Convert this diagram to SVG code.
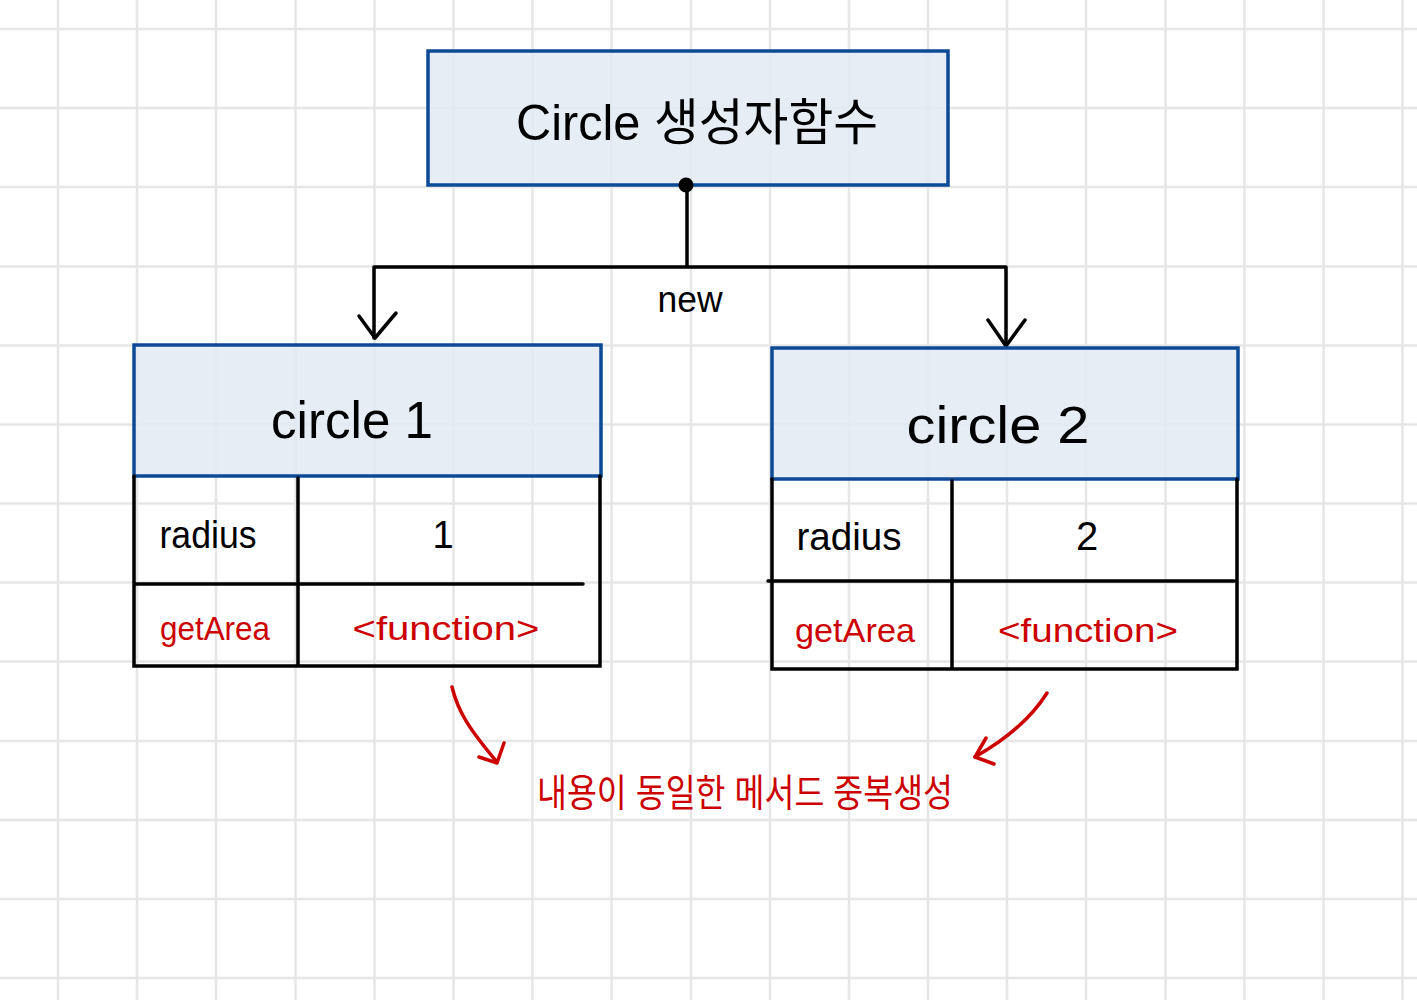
<svg xmlns="http://www.w3.org/2000/svg" width="1417" height="1000" viewBox="0 0 1417 1000">
<style>
.grid line{stroke:#e6e6e6;stroke-width:2.5}
.hdr{fill:#e3eaf3;fill-opacity:0.85;stroke:#0d4a96;stroke-width:3.5}
.tbl{fill:none;stroke:#000;stroke-width:3.5;stroke-linecap:round}
.t{font-family:"Liberation Sans","Noto Sans CJK KR",sans-serif;fill:#000;text-anchor:middle}
.r{fill:#cc0000}
.conn{fill:none;stroke:#000;stroke-width:3.5;stroke-linecap:round;stroke-linejoin:round}
.rc{fill:none;stroke:#cc0000;stroke-width:3.5;stroke-linecap:round;stroke-linejoin:round}
</style>
<rect width="1417" height="1000" fill="#ffffff"/>
<g class="grid">
<line x1="58" y1="0" x2="58" y2="1000"/><line x1="137" y1="0" x2="137" y2="1000"/><line x1="216" y1="0" x2="216" y2="1000"/><line x1="295.5" y1="0" x2="295.5" y2="1000"/><line x1="374.5" y1="0" x2="374.5" y2="1000"/><line x1="453.5" y1="0" x2="453.5" y2="1000"/><line x1="532.5" y1="0" x2="532.5" y2="1000"/><line x1="611.5" y1="0" x2="611.5" y2="1000"/><line x1="691" y1="0" x2="691" y2="1000"/><line x1="770" y1="0" x2="770" y2="1000"/><line x1="849" y1="0" x2="849" y2="1000"/><line x1="928" y1="0" x2="928" y2="1000"/><line x1="1007" y1="0" x2="1007" y2="1000"/><line x1="1086" y1="0" x2="1086" y2="1000"/><line x1="1165.5" y1="0" x2="1165.5" y2="1000"/><line x1="1244.5" y1="0" x2="1244.5" y2="1000"/><line x1="1323.5" y1="0" x2="1323.5" y2="1000"/><line x1="1402.5" y1="0" x2="1402.5" y2="1000"/>
<line x1="0" y1="29" x2="1417" y2="29"/><line x1="0" y1="108" x2="1417" y2="108"/><line x1="0" y1="187" x2="1417" y2="187"/><line x1="0" y1="266.5" x2="1417" y2="266.5"/><line x1="0" y1="345.5" x2="1417" y2="345.5"/><line x1="0" y1="424.5" x2="1417" y2="424.5"/><line x1="0" y1="503.5" x2="1417" y2="503.5"/><line x1="0" y1="582.5" x2="1417" y2="582.5"/><line x1="0" y1="661.5" x2="1417" y2="661.5"/><line x1="0" y1="741" x2="1417" y2="741"/><line x1="0" y1="820" x2="1417" y2="820"/><line x1="0" y1="899" x2="1417" y2="899"/><line x1="0" y1="978" x2="1417" y2="978"/>
</g>

<g id="constructor">
<rect class="hdr" x="428" y="51" width="520" height="134"/>
<text class="t" x="697" y="140" font-size="50" textLength="362" lengthAdjust="spacingAndGlyphs">Circle 생성자함수</text>
</g>

<g id="connectors">
<circle cx="686" cy="185" r="7.5" fill="#000"/>
<path class="conn" d="M687 185 V267 M374 267 H1006 M374 267 V338 M1006 267 V345"/>
<path class="conn" d="M359 316 L375 338 L396 313"/>
<path class="conn" d="M988 320 L1006 346 L1025 320"/>
<text class="t" x="690" y="312" font-size="36" textLength="65" lengthAdjust="spacingAndGlyphs">new</text>
<path class="rc" d="M452 687 C458 712 470 730 497 762"/>
<path class="rc" d="M479 757 L497 763 L504 743"/>
<path class="rc" d="M1047 693 C1030 720 1005 740 975 757"/>
<path class="rc" d="M986 738 L975 757 L994 764"/>
</g>

<g id="circle1">
<rect class="hdr" x="134" y="345" width="467" height="131"/>
<text class="t" x="352" y="438" font-size="52" textLength="162" lengthAdjust="spacingAndGlyphs">circle 1</text>
<path class="tbl" d="M134 476 V666 H600 V476 M298 478 V666 M134 584 H583"/>
<text class="t" x="208" y="548" font-size="38" textLength="97" lengthAdjust="spacingAndGlyphs">radius</text>
<text class="t" x="443" y="548" font-size="38">1</text>
<text class="t r" x="215" y="640" font-size="34" textLength="110" lengthAdjust="spacingAndGlyphs">getArea</text>
<text class="t r" x="446" y="640" font-size="34" textLength="187" lengthAdjust="spacingAndGlyphs">&lt;function&gt;</text>
</g>

<g id="circle2">
<rect class="hdr" x="772" y="348" width="466" height="131"/>
<text class="t" x="998" y="443" font-size="52" textLength="183" lengthAdjust="spacingAndGlyphs">circle 2</text>
<path class="tbl" d="M772 479 V669 H1237 V479 M952 481 V669 M768 581 H1234"/>
<text class="t" x="849" y="550" font-size="38" textLength="105" lengthAdjust="spacingAndGlyphs">radius</text>
<text class="t" x="1087" y="550" font-size="40">2</text>
<text class="t r" x="855" y="642" font-size="34" textLength="120" lengthAdjust="spacingAndGlyphs">getArea</text>
<text class="t r" x="1088" y="642" font-size="34" textLength="180" lengthAdjust="spacingAndGlyphs">&lt;function&gt;</text>
</g>

<g id="note">
<text class="t r" x="745" y="806" font-size="38" textLength="416" lengthAdjust="spacingAndGlyphs">내용이 동일한 메서드 중복생성</text>
</g>
</svg>
